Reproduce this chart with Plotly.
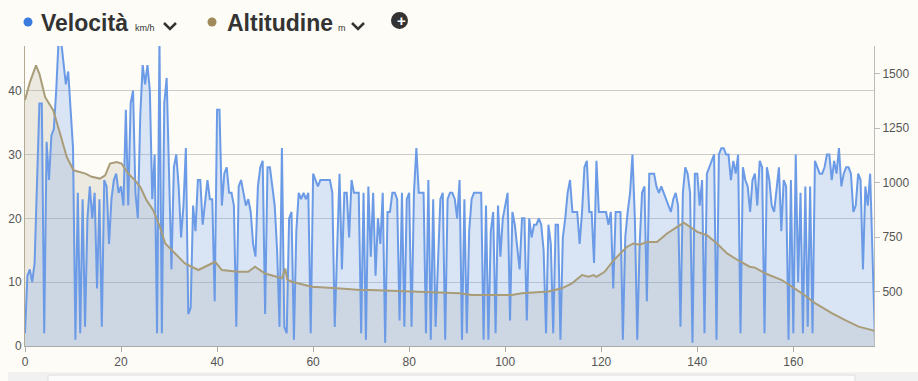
import numpy as np
import plotly.graph_objects as go

# Speed (km/h), sampled every 0.5 km from 0 to 177 km
speed_kmh = [
    2, 11, 12, 10, 13, 25, 38, 38, 2, 32,
    26, 33, 34, 40, 48, 48, 44, 41, 43, 36,
    31, 1, 24, 2, 23, 3, 20, 25, 20, 24,
    9, 23, 3, 26, 25, 16, 23, 26, 27, 24,
    25, 22, 37, 22, 38, 40, 24, 20, 36, 44,
    41, 44, 40, 23, 30, 2, 48, 2, 38, 42,
    27, 12, 28, 30, 25, 17, 22, 31, 5, 6,
    22, 18, 26, 26, 19, 23, 26, 23, 23, 7,
    37, 37, 22, 27, 28, 24, 24, 22, 3, 25,
    26, 24, 22, 23, 21, 16, 14, 25, 28, 29,
    5, 28, 28, 25, 22, 15, 3, 31, 3, 2,
    20, 21, 1, 18, 24, 23, 24, 23, 24, 2,
    27, 26, 25, 26, 26, 26, 26, 26, 24, 3,
    15, 27, 12, 24, 24, 17, 26, 24, 24, 24,
    2, 24, 1, 25, 14, 24, 11, 20, 16, 24,
    0.5, 21, 21, 24, 24, 23, 4, 24, 3, 23,
    24, 3, 24, 31, 24, 24, 24, 2, 26, 1,
    23, 3, 14, 23, 24, 1, 23, 24, 24, 23,
    20, 26, 1, 23, 2, 18, 23, 24, 24, 24,
    24, 1, 22, 1, 18, 21, 2, 22, 14, 20,
    22, 24, 4, 21, 19, 15, 12, 20, 20, 4,
    20, 17, 19, 19, 20, 19, 15, 2, 19, 16,
    2, 19, 19, 1, 17, 20, 24, 26, 21, 21,
    21, 16, 21, 28, 29, 21, 21, 13, 29, 21,
    21, 21, 21, 19, 21, 9, 21, 21, 21, 1,
    17, 21, 24, 30, 20, 1, 16, 24, 25, 7,
    27, 27, 27, 25, 24, 25, 24, 23, 22, 21,
    23, 24, 22, 3, 24, 28, 27, 24, 0.5, 27,
    27, 22, 26, 2, 27, 28, 29, 30, 1, 30,
    31, 31, 30, 30, 26, 29, 27, 30, 2, 28,
    26, 25, 21, 26, 27, 22, 29, 28, 2, 28,
    26, 22, 21, 25, 28, 18, 26, 25, 1, 26,
    2, 30, 10, 24, 2, 25, 3, 25, 2, 29,
    28, 27, 27, 28, 30, 30, 26, 29, 27, 31,
    25, 27, 28, 28, 27, 21, 22, 27, 26, 12,
    25, 22, 27, 14, 1,
]
speed_km = list(np.arange(len(speed_kmh)) * 0.5)

# Altitude (m)
alt_km = [0, 1, 2.3, 3, 4.2, 5.9, 7.3, 8.7, 10.1, 11.5, 12.6, 13.9, 15.6, 16.7,
          17.7, 19.1, 20.1, 21.5, 22.9, 24, 25.3, 26.7, 28.1, 29.2, 30.2, 31.2,
          33.3, 36.1, 37.5, 39.6, 41, 44.4, 46.5, 47.9, 50, 53.5, 54.2, 54.6,
          55.6, 59.7, 65, 69.8, 71.9, 80.2, 87.2, 90.5, 93, 101.4, 103.5, 109,
          111.8, 113.9, 116, 117.4, 118.4, 119, 120.7, 122.6, 125.3, 126.7, 128,
          129.5, 131.6, 133.7, 135.8, 137.2, 140, 142, 144.1, 146.2, 149, 150.9,
          152, 154.2, 157.6, 159.7, 161.8, 164.6, 168.1, 170.8, 173.6, 176.4, 177]
alt_m = [1380, 1460, 1539, 1500, 1393, 1332, 1226, 1118, 1057, 1050, 1042, 1027,
         1019, 1034, 1088, 1095, 1088, 1042, 1011, 981, 920, 874, 797, 721, 698,
         675, 629, 599, 614, 637, 599, 591, 591, 614, 583, 561, 606, 555, 545,
         522, 515, 507, 507, 500, 492, 492, 484, 484, 492, 500, 515, 538, 576,
         568, 576, 568, 591, 644, 705, 721, 715, 728, 728, 767, 797, 816, 774,
         759, 721, 675, 637, 614, 610, 583, 553, 522, 492, 446, 400, 369, 339,
         323, 318]

x_ticks = [0, 20, 40, 60, 80, 100, 120, 140, 160]
speed_ticks = [0, 10, 20, 30, 40]
alt_ticks = [500, 750, 1000, 1250, 1500]

W, H = 918, 381
L, R, T, B = 25, 44, 46, 35
PW, PH = W - L - R, H - T - B


def px(x):
    return (x - L) / PW


def py(y):
    return (H - B - y) / PH


BG = "#fdfcf7"
ALT_RANGE = [250, 1628]
fig = go.Figure()

# altitude fill (bottom layer, right axis)
fig.add_trace(go.Scatter(
    x=alt_km, y=alt_m, yaxis="y", mode="lines",
    line=dict(color="rgba(0,0,0,0)", width=0),
    fill="tozeroy", fillcolor="rgba(170,160,135,0.20)",
    hoverinfo="skip", showlegend=False))

# speed (left axis)
fig.add_trace(go.Scatter(
    x=speed_km, y=speed_kmh, yaxis="y2", mode="lines",
    line=dict(color="#6b9be6", width=2),
    fill="tozeroy", fillcolor="rgba(110,158,235,0.25)",
    hoverinfo="skip", showlegend=False))

# altitude line on top
fig.add_trace(go.Scatter(
    x=alt_km, y=alt_m, yaxis="y3", mode="lines",
    line=dict(color="#a99c79", width=2),
    hoverinfo="skip", showlegend=False))

tickfont = dict(family="Liberation Sans, Arial, sans-serif", size=12, color="#555")

fig.update_layout(
    width=W, height=H, autosize=False,
    margin=dict(l=L, r=R, t=T, b=B, pad=0),
    paper_bgcolor=BG, plot_bgcolor=BG,
    showlegend=False,
    xaxis=dict(range=[0, 176.8], tickvals=x_ticks, showgrid=False, zeroline=False,
               automargin=False,
               showline=True, linecolor="#aaaaaa", linewidth=1,
               ticks="outside", ticklen=5, tickcolor="#aaaaaa", tickfont=tickfont),
    yaxis=dict(range=ALT_RANGE, side="right", tickvals=alt_ticks, showgrid=False,
               automargin=False,
               zeroline=False, showline=True, linecolor="#bbbbbb", linewidth=1,
               ticks="outside", ticklen=5, tickcolor="#bbbbbb", tickfont=tickfont),
    yaxis2=dict(range=[0, 47], overlaying="y", side="left", tickvals=speed_ticks,
                automargin=False,
                showgrid=True, gridcolor="#cccccc", gridwidth=1, zeroline=False,
                showline=True, linecolor="#b3aa92", linewidth=1,
                ticks="", tickfont=tickfont),
    yaxis3=dict(range=ALT_RANGE, overlaying="y", side="right", visible=False,
                automargin=False, showgrid=False, zeroline=False),
)

# Legend-like header
font_b = dict(family="Liberation Sans, Arial, sans-serif", size=23, color="#333333")
font_s = dict(family="Liberation Sans, Arial, sans-serif", size=9, color="#333333")
ann = [
    dict(x=px(39), y=py(23), text="<b>Velocità</b>", font=font_b),
    dict(x=px(133), y=py(28), text="km/h", font=font_s),
    dict(x=px(225), y=py(23), text="<b>Altitudine</b>", font=font_b),
    dict(x=px(336), y=py(28), text="m", font=font_s),
    dict(x=px(394.5), y=py(20.5), text="<b>+</b>",
         font=dict(family="Liberation Sans, Arial", size=15, color="white")),
]
for a in ann:
    fig.add_annotation(xref="paper", yref="paper", xanchor="left", yanchor="middle",
                       showarrow=False, **a)

shapes = []
# colored dots
for cx, col in [(28, "#3a7be0"), (212, "#a08a5a")]:
    shapes.append(dict(type="circle", xref="paper", yref="paper",
                       x0=px(cx - 4.5), x1=px(cx + 4.5), y0=py(26.5), y1=py(17.5),
                       fillcolor=col, line=dict(width=0)))
# chevrons
for cx in (170, 358):
    shapes.append(dict(type="path", xref="paper", yref="paper",
                       path=f"M {px(cx-6)},{py(23)} L {px(cx)},{py(29)} L {px(cx+6)},{py(23)}",
                       line=dict(color="#333333", width=2.5)))
# plus icon circle
shapes.append(dict(type="circle", xref="paper", yref="paper",
                   x0=px(391), x1=px(408), y0=py(29), y1=py(12),
                   fillcolor="#333333", line=dict(width=0), layer="below"))
# bottom strip
shapes.append(dict(type="rect", xref="paper", yref="paper",
                   x0=px(8), x1=px(918), y0=py(390), y1=py(372),
                   fillcolor="#f1f1f1", line=dict(width=0)))
shapes.append(dict(type="rect", xref="paper", yref="paper",
                   x0=px(48), x1=px(855), y0=py(395), y1=py(375),
                   fillcolor="#fbfbfb", line=dict(color="#dddddd", width=1)))
fig.update_layout(shapes=shapes)

fig.write_html(
    "out.html",
    config={"displayModeBar": False},
    post_script="document.body.style.margin='0';document.body.style.background='%s';"
                "document.body.style.overflow='hidden';" % BG,
)
